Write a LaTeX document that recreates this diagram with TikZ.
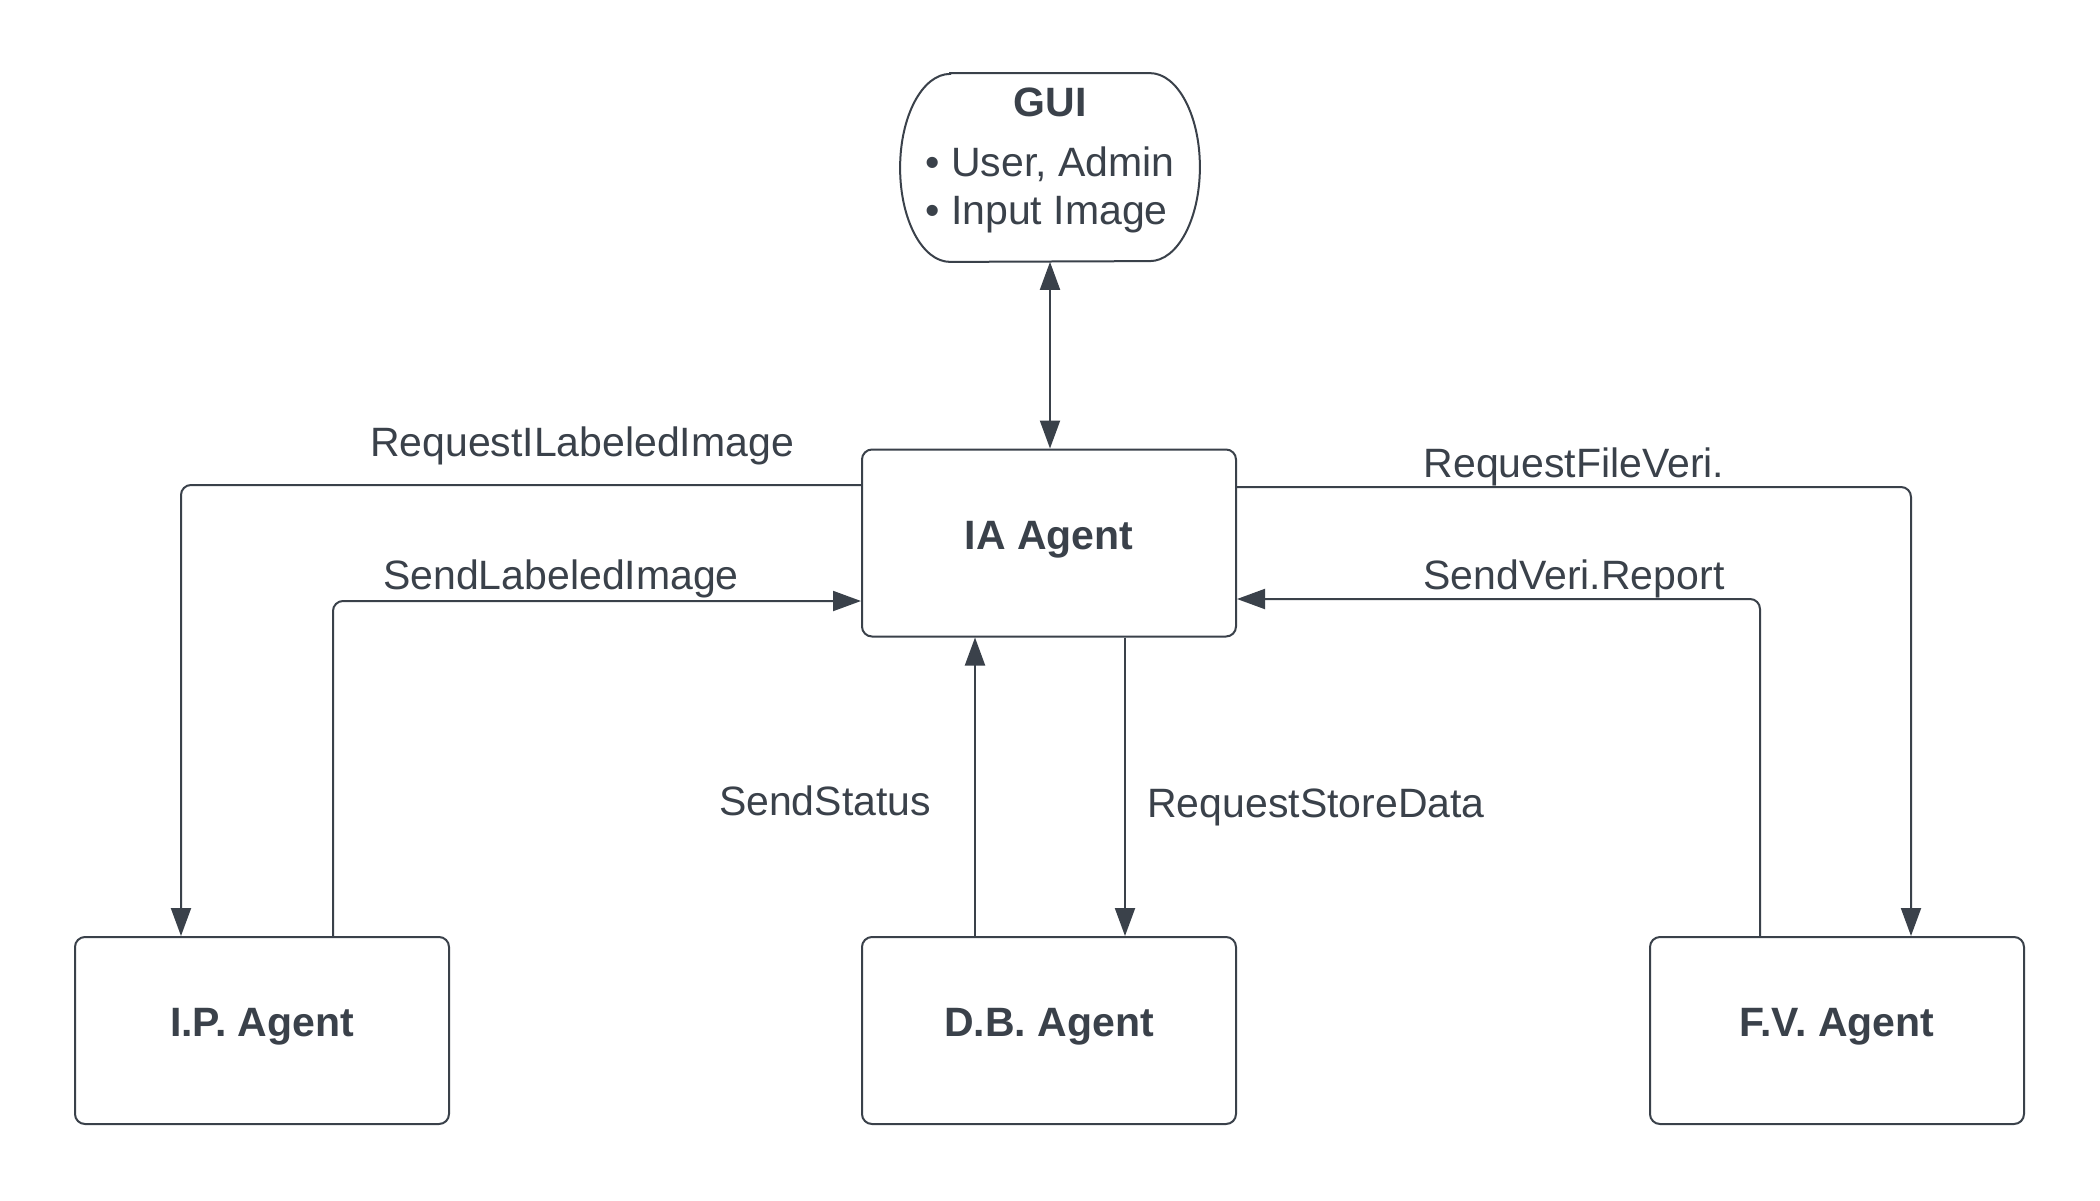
\documentclass[tikz,border=0pt]{standalone}
\usepackage{fontspec}
\setmainfont{Liberation Sans}
\usetikzlibrary{arrows.meta}
\definecolor{ink}{HTML}{3A414A}
\begin{document}
\begin{tikzpicture}[x=0.5pt,y=-0.5pt,
  >={Triangle[length=14pt,width=10pt]},
  agent/.style={draw=ink, line width=1pt, rounded corners=5pt,
    minimum width=187pt, minimum height=93.5pt, inner sep=0pt,
    font=\fontsize{20.5}{24}\selectfont\bfseries, text=ink,
    text height=14pt, text depth=8pt},
  guibox/.style={inner sep=0pt, minimum width=149.5pt, minimum height=94pt,
    font=\fontsize{20.5}{24}\selectfont, text=ink},
  conn/.style={draw=ink, line width=1pt, rounded corners=5pt, ->},
  lbl/.style={font=\fontsize{20.5}{24}\selectfont, text=ink, anchor=base, inner sep=0pt},
]
\fill[white] (0,0) rectangle (2100,1200);
\useasboundingbox (0,0) rectangle (2100,1200);

% nodes
\node[guibox] (gui) at (1050,167.5) {\begin{tabular}{@{}l@{}}\multicolumn{1}{@{}c@{}}{\bfseries GUI}\\[6pt]\textbullet\ User, Admin\\\textbullet\ Input Image\rule[-13.7pt]{0pt}{0pt}\end{tabular}};
\draw[ink, line width=1pt] ([xshift=25pt]gui.north west) -- ([xshift=-25pt]gui.north east)
  arc[start angle=90, end angle=-90, x radius=25pt, y radius=47pt]
  -- ([xshift=25pt]gui.south west)
  arc[start angle=270, end angle=90, x radius=25pt, y radius=47pt] -- cycle;

\node[agent] (ia) at (1049,543) {IA Agent};
\node[agent] (ip) at (262,1030.5) {I.P. Agent};
\node[agent] (db) at (1049,1030.5) {D.B. Agent};
\node[agent] (fv) at (1837,1030.5) {F.V. Agent};

% connectors
\draw[conn, <->] (gui.south) -- (gui.south |- ia.north);
\draw[conn] (ia.west |- 0,485) -| (ip.north -| 181,0);
\draw[conn] (ip.north -| 333,0) |- (ia.west |- 0,601);
\draw[conn] (ia.east |- 0,487) -| (fv.north -| 1911,0);
\draw[conn] (fv.north -| 1760,0) |- (ia.east |- 0,599);
\draw[conn] (db.north -| 975,0) -- (ia.south -| 975,0);
\draw[conn] (ia.south -| 1125,0) -- (db.north -| 1125,0);

% labels
\node[lbl] (l1) at (582,456) {RequestILabeledImage};
\node[lbl] (l2) at (561,589) {SendLabeledImage};
\node[lbl] (l3) at (1574,477) {RequestFileVeri.};
\node[lbl] (l4) at (1574,589) {SendVeri.Report};
\node[lbl] (l5) at (825,815) {SendStatus};
\node[lbl] (l6) at (1316,817) {RequestStoreData};
\end{tikzpicture}
\end{document}
